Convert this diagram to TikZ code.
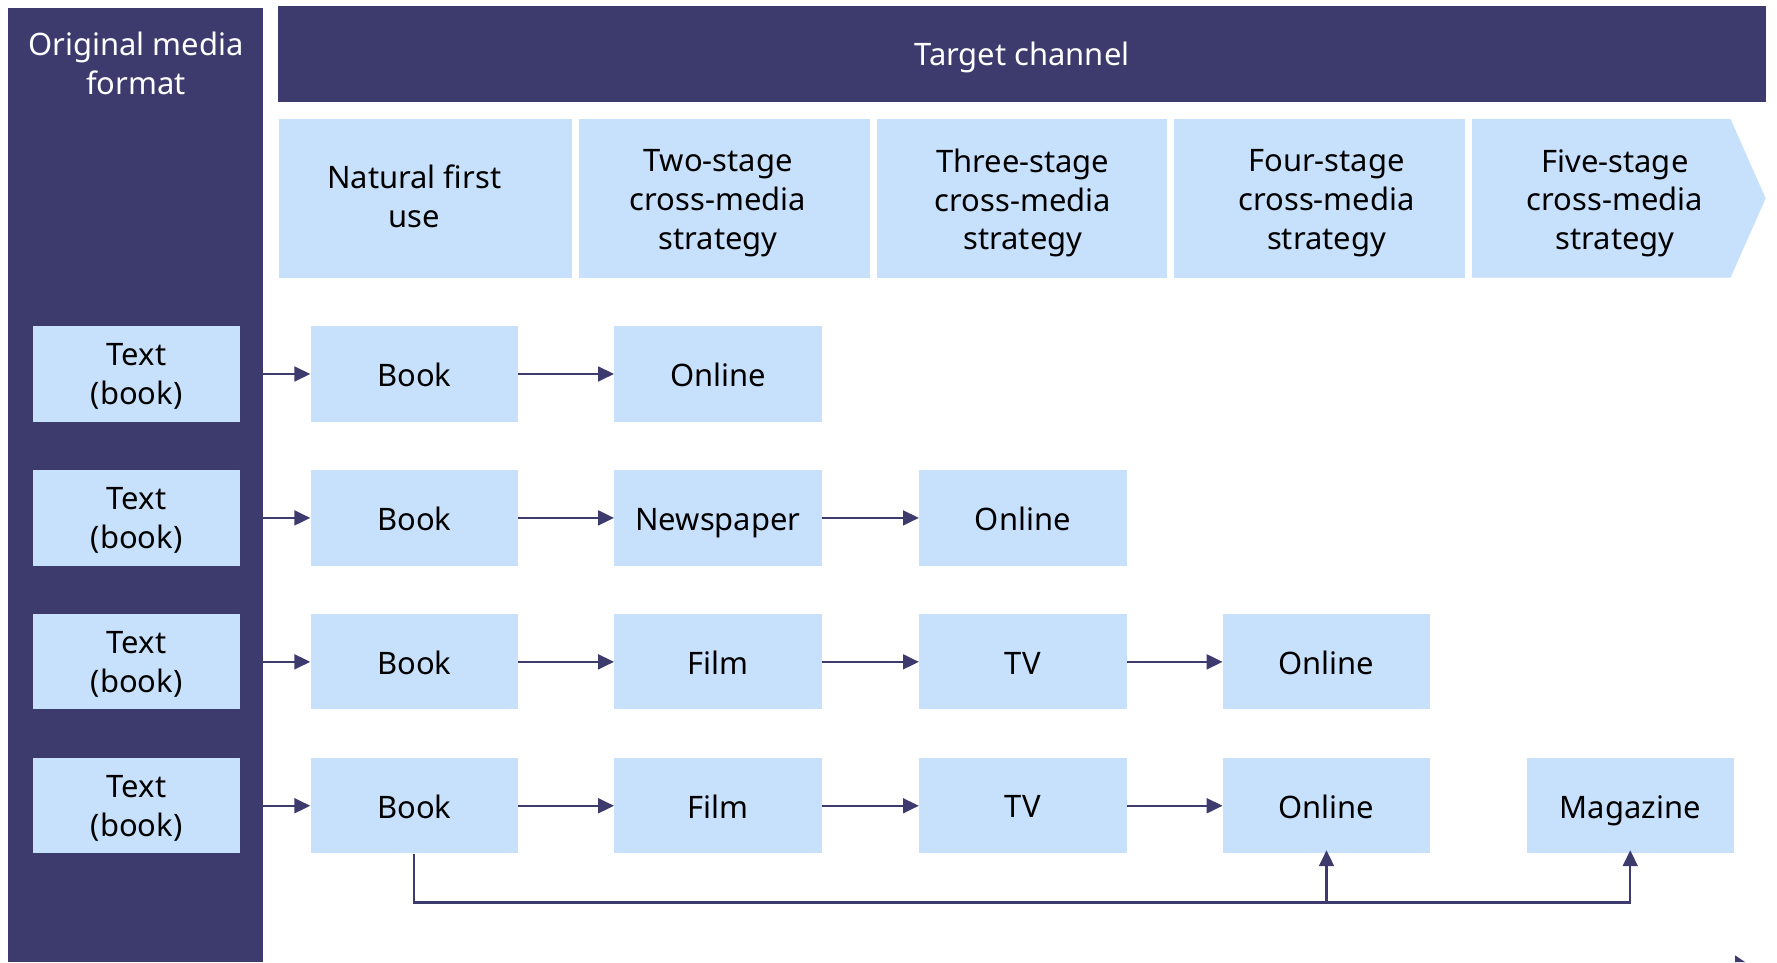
\documentclass[tikz,border=0pt]{standalone}
\usepackage{fontspec}
\setmainfont{Noto Sans}
\usetikzlibrary{arrows.meta,calc}
\definecolor{navy}{RGB}{61,59,110}
\definecolor{paleblue}{RGB}{199,224,252}

\begin{document}
\begin{tikzpicture}[x=1pt,y=-1pt,
  txt/.style={font=\fontsize{27.3}{34}\selectfont,align=center,inner sep=0pt,text depth=0pt},
  cell/.style={txt,fill=paleblue,minimum width=183pt,minimum height=84pt},
  band/.style={txt,fill=navy,text=white,anchor=north west},
  flow/.style={draw=navy,line width=2.1pt,-{Triangle[length=14pt,width=13pt]}}]
\useasboundingbox (0,0) rectangle (1568,849);

% frame
\node[band,minimum width=225pt,minimum height=842pt] (orig) at (7,7) {};
\node[txt,text=white] (origlabel) at (120,56) {Original media\\format};
\node[band,minimum width=1313pt,minimum height=85pt] (target) at (245,5) {Target channel};

% stages
\fill[paleblue] (246,105) rectangle (505,245);
\fill[paleblue] (511,105) rectangle (768,245);
\fill[paleblue] (774,105) rectangle (1030,245);
\fill[paleblue] (1036,105) rectangle (1293,245);
\fill[paleblue] (1299,105) -- (1527,105) -- (1558,175) -- (1527,245) -- (1299,245) -- cycle;
\node[txt] (s1) at (365.5,173) {Natural first\\use};
\node[txt] (s2) at (633.5,176) {Two-stage\\cross-media\\strategy};
\node[txt] (s3) at (902.5,176) {Three-stage\\cross-media\\strategy};
\node[txt] (s4) at (1170.5,176) {Four-stage\\cross-media\\strategy};
\node[txt] (s5) at (1425,176) {Five-stage\\cross-media\\strategy};

% rows
\foreach \r/\y in {1/330,2/457,3/584,4/711}{
  \node[cell,text depth=-4pt] (src\r) at (120.5,\y) {Text\\(book)};
  \node[cell] (book\r) at (365.5,\y) {\raisebox{-2pt}{Book}};
  \draw[flow] (src\r.east -| orig.east) -- (book\r);
}
\node[cell] (online1) at (633.5,330) {\raisebox{-2pt}{Online}};
\draw[flow] (book1) -- (online1);

\node[cell] (paper2) at (633.5,457) {\raisebox{-2pt}{Newspaper}};
\node[cell] (online2) at (902.5,457) {\raisebox{-2pt}{Online}};
\draw[flow] (book2) -- (paper2);
\draw[flow] (paper2) -- (online2);

\node[cell] (film3) at (633.5,584) {\raisebox{-2pt}{Film}};
\node[cell] (tv3) at (902.5,584) {\raisebox{-2pt}{TV}};
\node[cell] (online3) at (1170.5,584) {\raisebox{-2pt}{Online}};
\draw[flow] (book3) -- (film3);
\draw[flow] (film3) -- (tv3);
\draw[flow] (tv3) -- (online3);

\node[cell] (film4) at (633.5,711) {\raisebox{-2pt}{Film}};
\node[cell] (tv4) at (902.5,711) {\raisebox{-2pt}{TV}};
\node[cell] (online4) at (1170.5,711) {\raisebox{-2pt}{Online}};
\node[cell] (mag4) at (1438.5,711) {\raisebox{-2pt}{Magazine}};
\draw[flow] (book4) -- (film4);
\draw[flow] (film4) -- (tv4);
\draw[flow] (tv4) -- (online4);

% feedback
\coordinate (fork) at ($(online4.south)+(0,43)$);
\draw[flow] (book4.south) |- ($(mag4.south)+(0,43)$) -- ([yshift=3pt]mag4.south);
\draw[flow] (fork) -- ([yshift=3pt]online4.south);

\fill[navy] (1531,843) -- (1540,849) -- (1531,849) -- cycle;
\end{tikzpicture}
\end{document}
